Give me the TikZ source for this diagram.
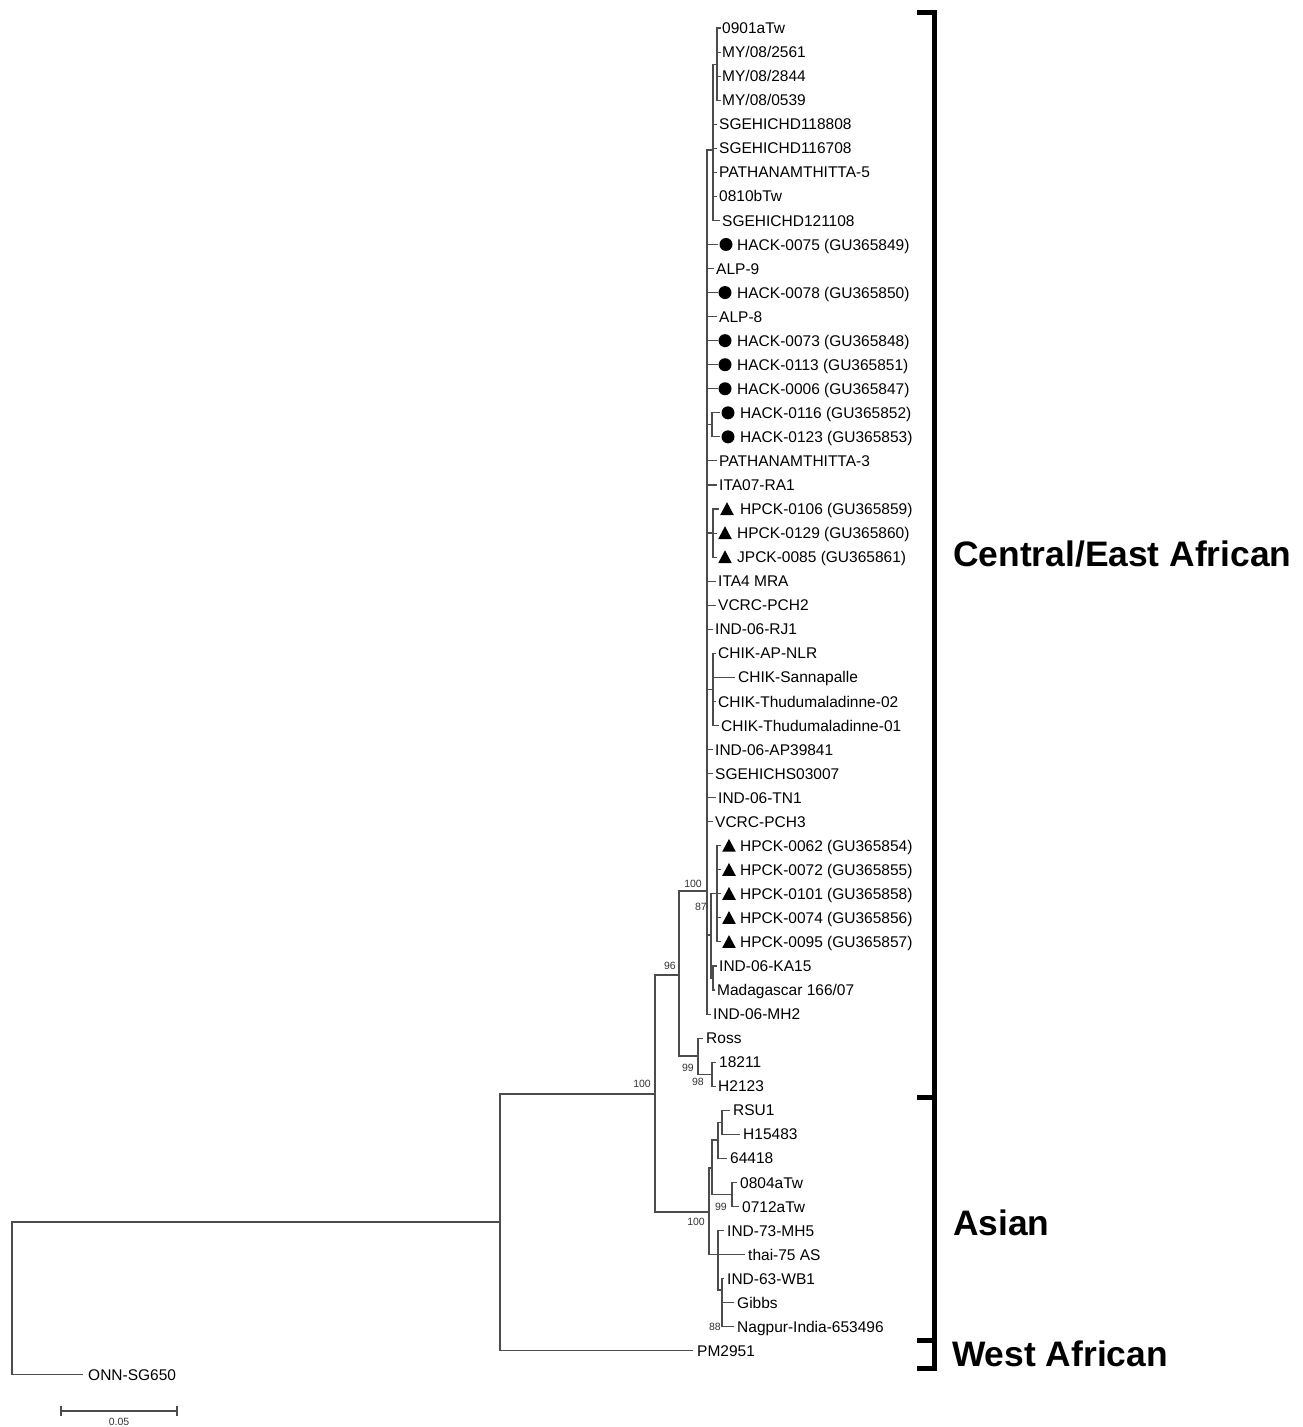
\documentclass[tikz,border=0pt]{standalone}
\usepackage{fontspec}
\setmainfont{Liberation Sans}
\newcommand\leafnode[4]{%
  \coordinate (t#1) at (#2,{28+(#1-1)*24.05});
  \node[leaf] (L#1) at (#3,{33.6+(#1-1)*24.05}) {#4};}
\newcommand\dotmk[2]{\fill ({#2},{28+(#1-1)*24.05}) circle (6.5);}
\newcommand\trimk[2]{\fill ({#2-6.8},{34+(#1-1)*24.05}) -- ({#2+6.8},{34+(#1-1)*24.05}) -- ({#2},{21.2+(#1-1)*24.05}) -- cycle;}
\begin{document}
\begin{tikzpicture}[x=1pt,y=-1pt,
  br/.style={line width=1.1pt, draw=black!70},
  leaf/.style={anchor=base west, inner sep=0pt, font=\fontsize{15.5}{18}\selectfont},
  boot/.style={anchor=base east, inner sep=0pt, font=\fontsize{10.5}{12}\selectfont, text=black!80},
  clade/.style={anchor=base west, inner sep=0pt, font=\fontsize{35.4}{40}\selectfont\bfseries},
  brk/.style={line width=5pt, line join=miter}]
\useasboundingbox (0,0) rectangle (1302,1427);

% ---------- leaves ----------
\leafnode{1}{721}{722}{0901aTw}
\leafnode{2}{721}{722}{MY/08/2561}
\leafnode{3}{721}{722}{MY/08/2844}
\leafnode{4}{721}{722}{MY/08/0539}
\leafnode{5}{717}{719}{SGEHICHD118808}
\leafnode{6}{717}{719}{SGEHICHD116708}
\leafnode{7}{717}{719}{PATHANAMTHITTA-5}
\leafnode{8}{717}{719}{0810bTw}
\leafnode{9}{720}{722}{SGEHICHD121108}
\leafnode{10}{718}{737}{HACK-0075 (GU365849)}
\leafnode{11}{714}{716}{ALP-9}
\leafnode{12}{718}{737}{HACK-0078 (GU365850)}
\leafnode{13}{717}{719}{ALP-8}
\leafnode{14}{718}{737}{HACK-0073 (GU365848)}
\leafnode{15}{718}{737}{HACK-0113 (GU365851)}
\leafnode{16}{718}{737}{HACK-0006 (GU365847)}
\leafnode{17}{720}{740}{HACK-0116 (GU365852)}
\leafnode{18}{720}{740}{HACK-0123 (GU365853)}
\leafnode{19}{717}{719}{PATHANAMTHITTA-3}
\leafnode{20}{717}{719}{ITA07-RA1}
\leafnode{21}{719}{740}{HPCK-0106 (GU365859)}
\leafnode{22}{717}{737}{HPCK-0129 (GU365860)}
\leafnode{23}{717}{737}{JPCK-0085 (GU365861)}
\leafnode{24}{716}{718}{ITA4 MRA}
\leafnode{25}{716}{718}{VCRC-PCH2}
\leafnode{26}{713}{715}{IND-06-RJ1}
\leafnode{27}{716}{718}{CHIK-AP-NLR}
\leafnode{28}{735}{738}{CHIK-Sannapalle}
\leafnode{29}{716}{718}{CHIK-Thudumaladinne-02}
\leafnode{30}{719}{721}{CHIK-Thudumaladinne-01}
\leafnode{31}{713}{715}{IND-06-AP39841}
\leafnode{32}{713}{715}{SGEHICHS03007}
\leafnode{33}{716}{718}{IND-06-TN1}
\leafnode{34}{713}{715}{VCRC-PCH3}
\leafnode{35}{721}{740}{HPCK-0062 (GU365854)}
\leafnode{36}{721}{740}{HPCK-0072 (GU365855)}
\leafnode{37}{721}{740}{HPCK-0101 (GU365858)}
\leafnode{38}{721}{740}{HPCK-0074 (GU365856)}
\leafnode{39}{721}{740}{HPCK-0095 (GU365857)}
\leafnode{40}{717}{719}{IND-06-KA15}
\leafnode{41}{715}{717}{Madagascar 166/07}
\leafnode{42}{711}{713}{IND-06-MH2}
\leafnode{43}{703}{706}{Ross}
\leafnode{44}{716}{719}{18211}
\leafnode{45}{716}{718}{H2123}
\leafnode{46}{730}{733}{RSU1}
\leafnode{47}{740}{743}{H15483}
\leafnode{48}{727}{730}{64418}
\leafnode{49}{737}{740}{0804aTw}
\leafnode{50}{739}{742}{0712aTw}
\leafnode{51}{724}{727}{IND-73-MH5}
\leafnode{52}{745}{748}{thai-75 AS}
\leafnode{53}{724}{727}{IND-63-WB1}
\leafnode{54}{734}{737}{Gibbs}
\leafnode{55}{734}{737}{Nagpur-India-653496}
\leafnode{56}{693}{697}{PM2951}
\leafnode{57}{83}{88}{ONN-SG650}

% ---------- markers ----------
\dotmk{10}{726}\dotmk{12}{725}\dotmk{14}{725}\dotmk{15}{725}\dotmk{16}{725}
\dotmk{17}{728}\dotmk{18}{728}
\trimk{21}{727}\trimk{22}{725}\trimk{23}{725}
\trimk{35}{729}\trimk{36}{729}\trimk{37}{729}\trimk{38}{729}\trimk{39}{729}

% ---------- internal nodes ----------
\coordinate (R) at (12,1298);
\coordinate (N500) at (500,1222);
\coordinate (N655) at (655,1094);
\coordinate (N679) at (679,975);
\coordinate (N698) at (698,1056);
\coordinate (N98) at (712,1074.2);
\coordinate (N707) at (707,891);
\coordinate (B) at (713,150);
\coordinate (A) at (717,64.1);
\coordinate (N17) at (712,424.8);
\coordinate (N21) at (713,533);
\coordinate (N27) at (713,689.4);
\coordinate (N87) at (711,935);
\coordinate (NH) at (717,893.8);
\coordinate (NK) at (713,978);
\coordinate (NAs) at (709,1212);
\coordinate (NT) at (712,1168);
\coordinate (NR) at (718,1140);
\coordinate (NR2) at (722,1122.3);
\coordinate (N0804) at (732,1194.4);
\coordinate (NB) at (718,1254.55);
\coordinate (NG) at (722,1290);

% ---------- branches ----------
\foreach \p/\c in {R/N500, R/t57, N500/N655, N500/t56, N655/N679, N655/NAs,
  N679/N707, N679/N698, N698/t43, N698/N98, N98/t44, N98/t45,
  N707/B, N707/t10, N707/t11, N707/t12, N707/t13, N707/t14, N707/t15, N707/t16,
  N707/N17, N707/t19, N707/t20, N707/N21, N707/t24, N707/t25, N707/t26,
  N707/N27, N707/t31, N707/t32, N707/t33, N707/t34, N707/N87, N707/t42,
  B/A, B/t5, B/t6, B/t7, B/t8, B/t9, A/t1, A/t2, A/t3, A/t4,
  N17/t17, N17/t18, N21/t21, N21/t22, N21/t23,
  N27/t27, N27/t28, N27/t29, N27/t30,
  N87/NH, N87/NK, NH/t35, NH/t36, NH/t37, NH/t38, NH/t39, NK/t40, NK/t41,
  NAs/NT, NAs/NB, NT/NR, NT/N0804, NR/NR2, NR/t48, NR2/t46, NR2/t47,
  N0804/t49, N0804/t50, NB/t51, NB/t52, NB/NG, NG/t53, NG/t54, NG/t55}
  \draw[br] (\p) |- (\c);

% ---------- bootstrap values ----------
\node[boot] (b1) at (651,1087) {100};
\node[boot] (b2) at (676,969) {96};
\node[boot] (b3) at (702,887) {100};
\node[boot] (b4) at (707,910) {87};
\node[boot] (b5) at (694,1071) {99};
\node[boot] (b6) at (704,1085) {98};
\node[boot] (b7) at (705,1225) {100};
\node[boot] (b8) at (727,1210) {99};
\node[boot] (b9) at (721,1330) {88};

% ---------- brackets and clade names ----------
\draw[brk] (917,12) -- (934,12) -- (934,1368) -- (917,1368);
\draw[brk] (934,1097) -- (917,1097);
\draw[brk] (934,1340) -- (917,1340);
\node[clade] (cea) at (953,566) {Central/East African};
\node[clade] (asn) at (953,1235) {Asian};
\node[clade] (waf) at (952,1366) {West African};

% ---------- scale bar ----------
\coordinate (s1) at (61,1411);
\coordinate (s2) at (177,1411);
\draw[br] (s1) -- (s2);
\draw[br] (61,1406) -- (61,1416);
\draw[br] (177,1406) -- (177,1416);
\node[inner sep=0pt, font=\fontsize{10.5}{12}\selectfont, text=black!80] (sc) at (119,1422) {0.05};
\end{tikzpicture}
\end{document}
